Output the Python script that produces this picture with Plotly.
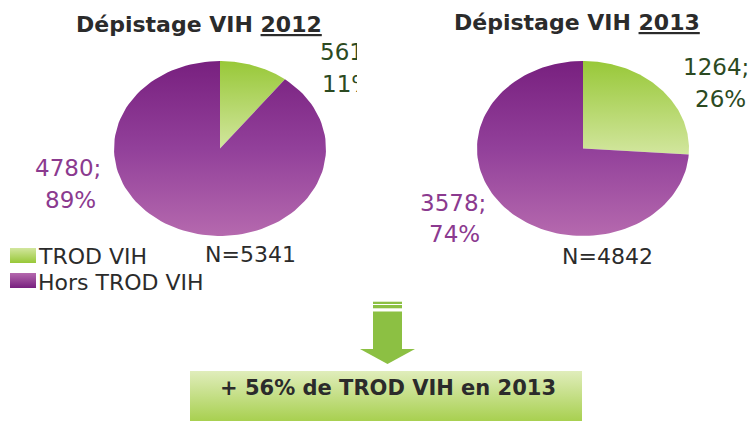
import numpy as np
import plotly.graph_objects as go

# ---------------- data ----------------
years = ["2012", "2013"]
categories = ["TROD VIH", "Hors TROD VIH"]
trod_values = [561, 1264]
hors_values = [4780, 3578]
trod_pct = ["11%", "26%"]
hors_pct = ["89%", "74%"]
totals = [5341, 4842]
increase_text = "+ 56% de TROD VIH en 2013"

# ---------------- style ----------------
W, H = 751, 421
FONT = "DejaVu Sans"
pie_boxes = [(114, 61, 326, 236), (477, 61, 689, 236)]  # left, top, right, bottom (px)
green_scale = [[0, "#d2e69e"], [1, "#98c838"]]
purple_scale = [[0, "#b569ae"], [0.5, "#92409a"], [1, "#78207f"]]
green_text = "#2c4a22"
purple_text = "#8b3a8f"
dark = "#2b2b2b"


def wedge(a0, a1, n=120):
    t = np.linspace(a0, a1, n)
    x = np.concatenate([[0], np.sin(t), [0]])
    y = np.concatenate([[0], np.cos(t), [0]])
    return x, y


fig = go.Figure()
layout_axes = {}

for i, (t_val, h_val) in enumerate(zip(trod_values, hors_values)):
    total = t_val + h_val
    frac = t_val / total
    xa = "x" if i == 0 else "x2"
    ya = "y" if i == 0 else "y2"
    for (a0, a1, scale, name) in [
        (0, 2 * np.pi * frac, green_scale, categories[0]),
        (2 * np.pi * frac, 2 * np.pi, purple_scale, categories[1]),
    ]:
        x, y = wedge(a0, a1)
        fig.add_trace(go.Scatter(
            x=x, y=y, xaxis=xa, yaxis=ya, mode="lines", fill="toself",
            line=dict(width=0, color="rgba(0,0,0,0)"),
            fillgradient=dict(type="vertical", colorscale=scale),
            name=name, showlegend=False, hoverinfo="skip"))
    l, t, r, b = pie_boxes[i]
    ax_suffix = "" if i == 0 else "2"
    layout_axes["xaxis" + ax_suffix] = dict(domain=[l / W, r / W], range=[-1, 1], visible=False,
                                             anchor=ya, fixedrange=True)
    layout_axes["yaxis" + ax_suffix] = dict(domain=[1 - b / H, 1 - t / H], range=[-1, 1], visible=False,
                                             anchor=xa, fixedrange=True)

# overlay pixel axes for decorations
layout_axes["xaxis3"] = dict(domain=[0, 1], range=[0, W], visible=False, anchor="y3", fixedrange=True)
layout_axes["yaxis3"] = dict(domain=[0, 1], range=[H, 0], visible=False, anchor="x3", fixedrange=True)
layout_axes["xaxis4"] = dict(domain=[0, 357 / W], range=[0, 357], visible=False, anchor="y4", fixedrange=True)
layout_axes["yaxis4"] = dict(domain=[0, 1], range=[H, 0], visible=False, anchor="x4", fixedrange=True)


def rect(x0, y0, x1, y1, scale=None, color=None):
    kw = dict(x=[x0, x1, x1, x0, x0], y=[y0, y0, y1, y1, y0], xaxis="x3", yaxis="y3",
              mode="lines", fill="toself", line=dict(width=0, color="rgba(0,0,0,0)"),
              showlegend=False, hoverinfo="skip")
    if scale is not None:
        kw["fillgradient"] = dict(type="vertical", colorscale=scale)
    else:
        kw["fillcolor"] = color
    fig.add_trace(go.Scatter(**kw))


# legend swatches (y axis reversed: scale 0 = lowest y value = top)
rect(10, 248, 36, 263, scale=[[0, "#98c838"], [1, "#d2e69e"]])
rect(10, 273, 36, 288, scale=[[0, "#78207f"], [1, "#b569ae"]])

# arrow
arrow_green = "#8cc043"
rect(373, 301.7, 402, 304, color=arrow_green)
rect(373, 305, 402, 308.3, color=arrow_green)
rect(373, 311.5, 402, 349.5, color=arrow_green)
fig.add_trace(go.Scatter(x=[360, 415, 387.5, 360], y=[349, 349, 364, 349], xaxis="x3", yaxis="y3",
                         mode="lines", fill="toself", fillcolor=arrow_green,
                         line=dict(width=0, color="rgba(0,0,0,0)"), showlegend=False, hoverinfo="skip"))
# result box
rect(190, 371, 582, 421, scale=[[0, "#a8d050"], [1, "#e0edbb"]])

# clipped label for 2012 TROD slice
fig.add_trace(go.Scatter(
    x=[320, 322], y=[54, 86], xaxis="x4", yaxis="y4", mode="text",
    text=[f"{trod_values[0]};", trod_pct[0]], textposition="middle right",
    textfont=dict(family=FONT, size=23, color=green_text), cliponaxis=True,
    showlegend=False, hoverinfo="skip"))

annotations = []


def ann(text, x, y, size=23, color=dark, bold=False, xanchor="center"):
    annotations.append(dict(
        text=f"<b>{text}</b>" if bold else text, x=x, y=y, xref="x3", yref="y3",
        xanchor=xanchor, yanchor="middle", showarrow=False,
        font=dict(family=FONT, size=size, color=color)))


ann(f"Dépistage VIH <u>{years[0]}</u>", 199, 24, size=22, bold=True)
ann(f"Dépistage VIH <u>{years[1]}</u>", 577, 22, size=22, bold=True)
ann(f"{hors_values[0]};", 68, 168, color=purple_text)
ann(hors_pct[0], 70, 200, color=purple_text)
ann(f"{hors_values[1]};", 453, 203, color=purple_text)
ann(hors_pct[1], 454, 234, color=purple_text)
ann(f"{trod_values[1]};", 751, 67, color=green_text, xanchor="right")
ann(trod_pct[1], 720, 99, color=green_text)
ann(f"N={totals[0]}", 250, 254, size=22)
ann(f"N={totals[1]}", 607, 256, size=22)
ann(categories[0], 36, 256, size=22, xanchor="left")
ann(categories[1], 36, 282, size=22, xanchor="left")
ann(increase_text, 388, 388, size=21, bold=True)

fig.update_layout(
    width=W, height=H, margin=dict(l=0, r=0, t=0, b=0),
    paper_bgcolor="white", plot_bgcolor="rgba(0,0,0,0)",
    showlegend=False, annotations=annotations, **layout_axes)

fig.write_html("out.html", config={"displayModeBar": False},
               post_script="document.body.style.margin='0';document.body.style.overflow='hidden';")
